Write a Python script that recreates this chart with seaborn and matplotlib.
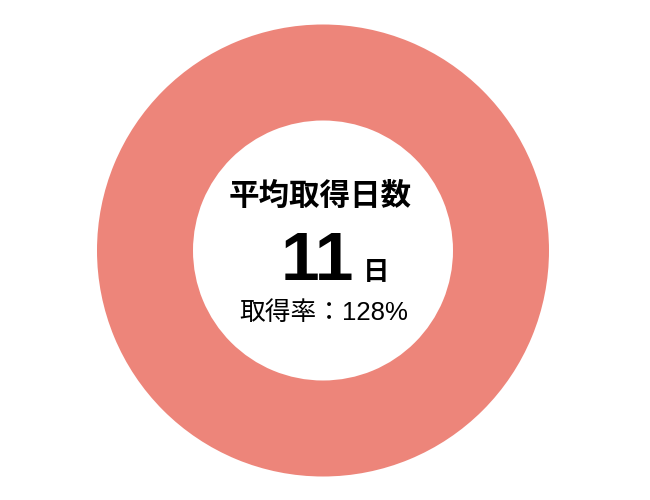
import matplotlib
matplotlib.use("Agg")
import matplotlib.pyplot as plt
import seaborn as sns

sns.set_theme(style="white")
plt.rcParams['font.family'] = ['Noto Sans CJK JP', 'DejaVu Sans']

# data
labels = ['取得率']
values = [128]
title_text = '平均取得日数'
avg_days = '11'
unit_text = '日'
rate_text = '取得率：128%'

ring_color = sns.color_palette(['#ED857A'])[0]

fig = plt.figure(figsize=(6.5, 5), dpi=100)
ax = fig.add_axes([0, 0, 1, 1])
ax.set_xlim(0, 650)
ax.set_ylim(500, 0)
ax.set_aspect('equal')
ax.axis('off')

ax.pie(values, labels=None, colors=[ring_color], center=(323, 250.5), radius=226,
       startangle=90, counterclock=False,
       wedgeprops=dict(width=96, edgecolor='none'))
ax.set_xlim(0, 650)
ax.set_ylim(500, 0)

ax.text(320, 196, title_text, ha='center', va='center', fontsize=22,
        fontweight='bold', color='black')
ax.text(317, 280, avg_days, ha='center', va='baseline', fontsize=50,
        fontweight='bold', color='black', family=['Liberation Sans', 'DejaVu Sans'])
ax.text(363, 280, unit_text, ha='left', va='baseline', fontsize=19,
        fontweight='bold', color='black')
ax.text(324, 313, rate_text, ha='center', va='center', fontsize=18.5,
        color='black', family=['Liberation Sans', 'Noto Sans CJK JP', 'DejaVu Sans'])

fig.savefig('out.png', dpi=100)
